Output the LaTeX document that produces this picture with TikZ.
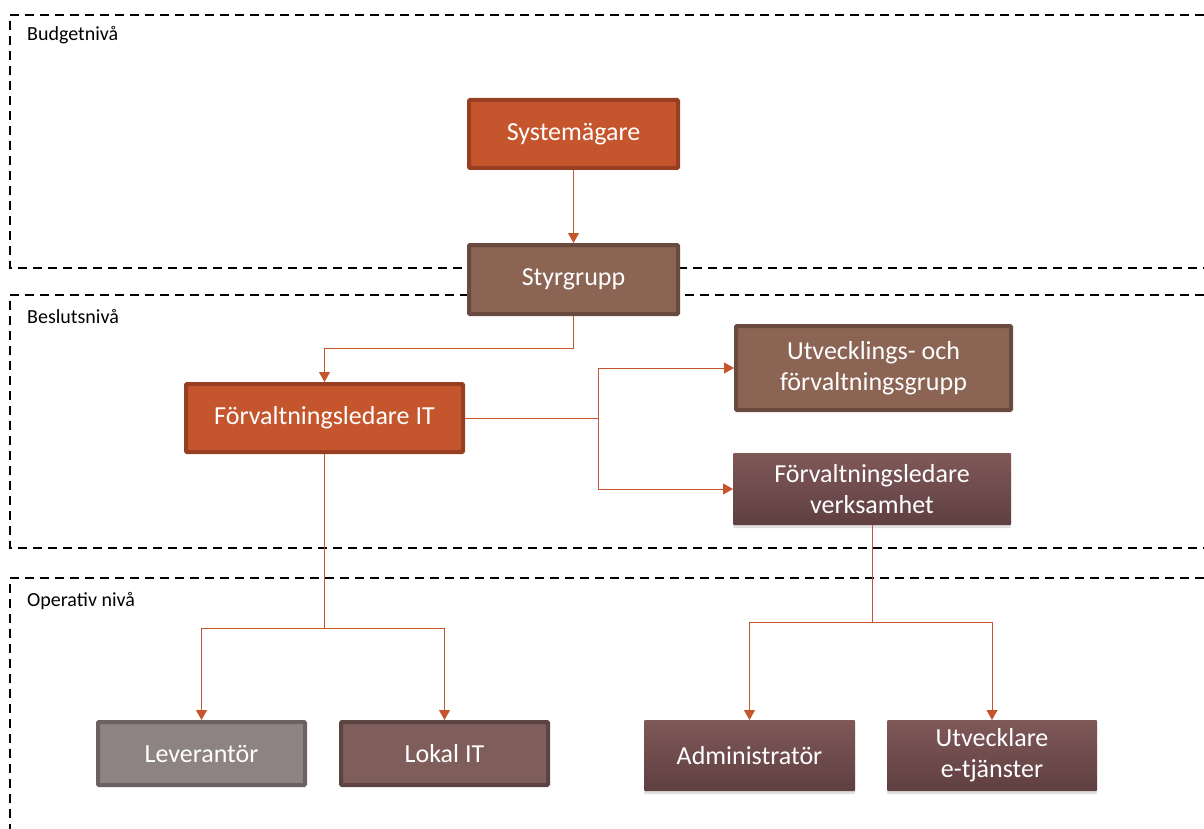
\documentclass[tikz,border=0pt]{standalone}
\usepackage{fontspec}
\setmainfont{Carlito}
\usepackage{tikz}
\usetikzlibrary{
	positioning,
	calc,
	arrows.meta,
	shadows
}

\definecolor{rust}{HTML}{C5552C}
\definecolor{rustdark}{HTML}{983E22}
\definecolor{mocha}{HTML}{8C6454}
\definecolor{mochadark}{HTML}{684A3E}
\definecolor{ash}{HTML}{8E8383}
\definecolor{ashdark}{HTML}{6B6161}
\definecolor{plum}{HTML}{7E5D5A}
\definecolor{plumdark}{HTML}{5C4442}
\definecolor{wineTop}{HTML}{805858}
\definecolor{wineBot}{HTML}{5F3F40}

\begin{document}
\begin{tikzpicture}[x=1pt, y=-1pt,
			box/.style={rectangle, rounded corners=1pt, line width=4pt, text=white,
				font=\fontsize{26}{31}\selectfont, align=center, inner sep=0},
			owner/.style={box, fill=rust, draw=rustdark},
			group/.style={box, fill=mocha, draw=mochadark},
			vendor/.style={box, fill=ash, draw=ashdark},
			local/.style={box, fill=plum, draw=plumdark},
			role/.style={box, line width=0pt, top color=wineTop, bottom color=wineBot,
				drop shadow={shadow xshift=0pt, shadow yshift=-3pt, opacity=0.25}},
			level/.style={dashed, dash pattern=on 9pt off 6pt, line width=1.6pt},
			levellabel/.style={anchor=north west, font=\fontsize{20}{24}\selectfont, inner sep=0},
			arrow/.style={draw=rust, line width=1pt, -{Triangle[length=10pt, width=11pt]}}]

			\useasboundingbox (0,0) rectangle (1204,829);

			% levels
			\draw[level] (1204,15) -- (10,15) -- (10,268) -- (1204,268);
			\draw[level] (1204,295) -- (10,295) -- (10,548) -- (1204,548);
			\draw[level] (1204,578) -- (10,578) -- (10,829);
			\node[levellabel] (budget) at (27,26) {Budgetnivå};
			\node[levellabel] (beslut) at (27,309) {Beslutsnivå};
			\node[levellabel] (operativ) at (27,592) {Operativ nivå};

			% boxes
			\node[owner, minimum width=209, minimum height=68] (sys) at (573.5,134) {Systemägare};
			\node[group, minimum width=209, minimum height=69] (styr) at (573.5,279.5) {Styrgrupp};
			\node[owner, minimum width=277, minimum height=68] (flit) at (324.5,418) {Förvaltningsledare IT};
			\node[group, minimum width=275, minimum height=84] (utv) at (873.5,368) {Utvecklings- och\\förvaltningsgrupp};
			\node[role, minimum width=278, minimum height=72] (flv) at (872,489) {Förvaltningsledare\\verksamhet};

			\node[vendor, minimum width=207, minimum height=63] (lev) at (201.5,753.5) {Leverantör};
			\node[local, minimum width=207, minimum height=63] (lok) at (444.5,753.5) {Lokal IT};
			\node[role, minimum width=211, minimum height=71] (adm) at (749.5,755.5) {Administratör};
			\node[role, minimum width=210, minimum height=71] (ute) at (992,755.5) {Utvecklare\\e-tjänster};

			% connectors
			\coordinate (split) at (598,418);
			\coordinate (itjn) at (324.5,628);
			\coordinate (vsjn) at (872,622);

			\draw[arrow] (sys.south) -- (styr.north);
			\draw[arrow] (styr.south) -- ++(0,32) -| (flit.north);
			\draw[draw=rust, line width=1pt] (flit.east) -- (split);
			\draw[arrow] (split) |- (utv.west);
			\draw[arrow] (split) |- (flv.west);
			\draw[draw=rust, line width=1pt] (flit.south) -- (itjn);
			\draw[arrow] (itjn) -| (lev.north);
			\draw[arrow] (itjn) -| (lok.north);
			\draw[draw=rust, line width=1pt] (flv.south) -- (vsjn);
			\draw[arrow] (vsjn) -| (adm.north);
			\draw[arrow] (vsjn) -| (ute.north);
		\end{tikzpicture}
\end{document}
